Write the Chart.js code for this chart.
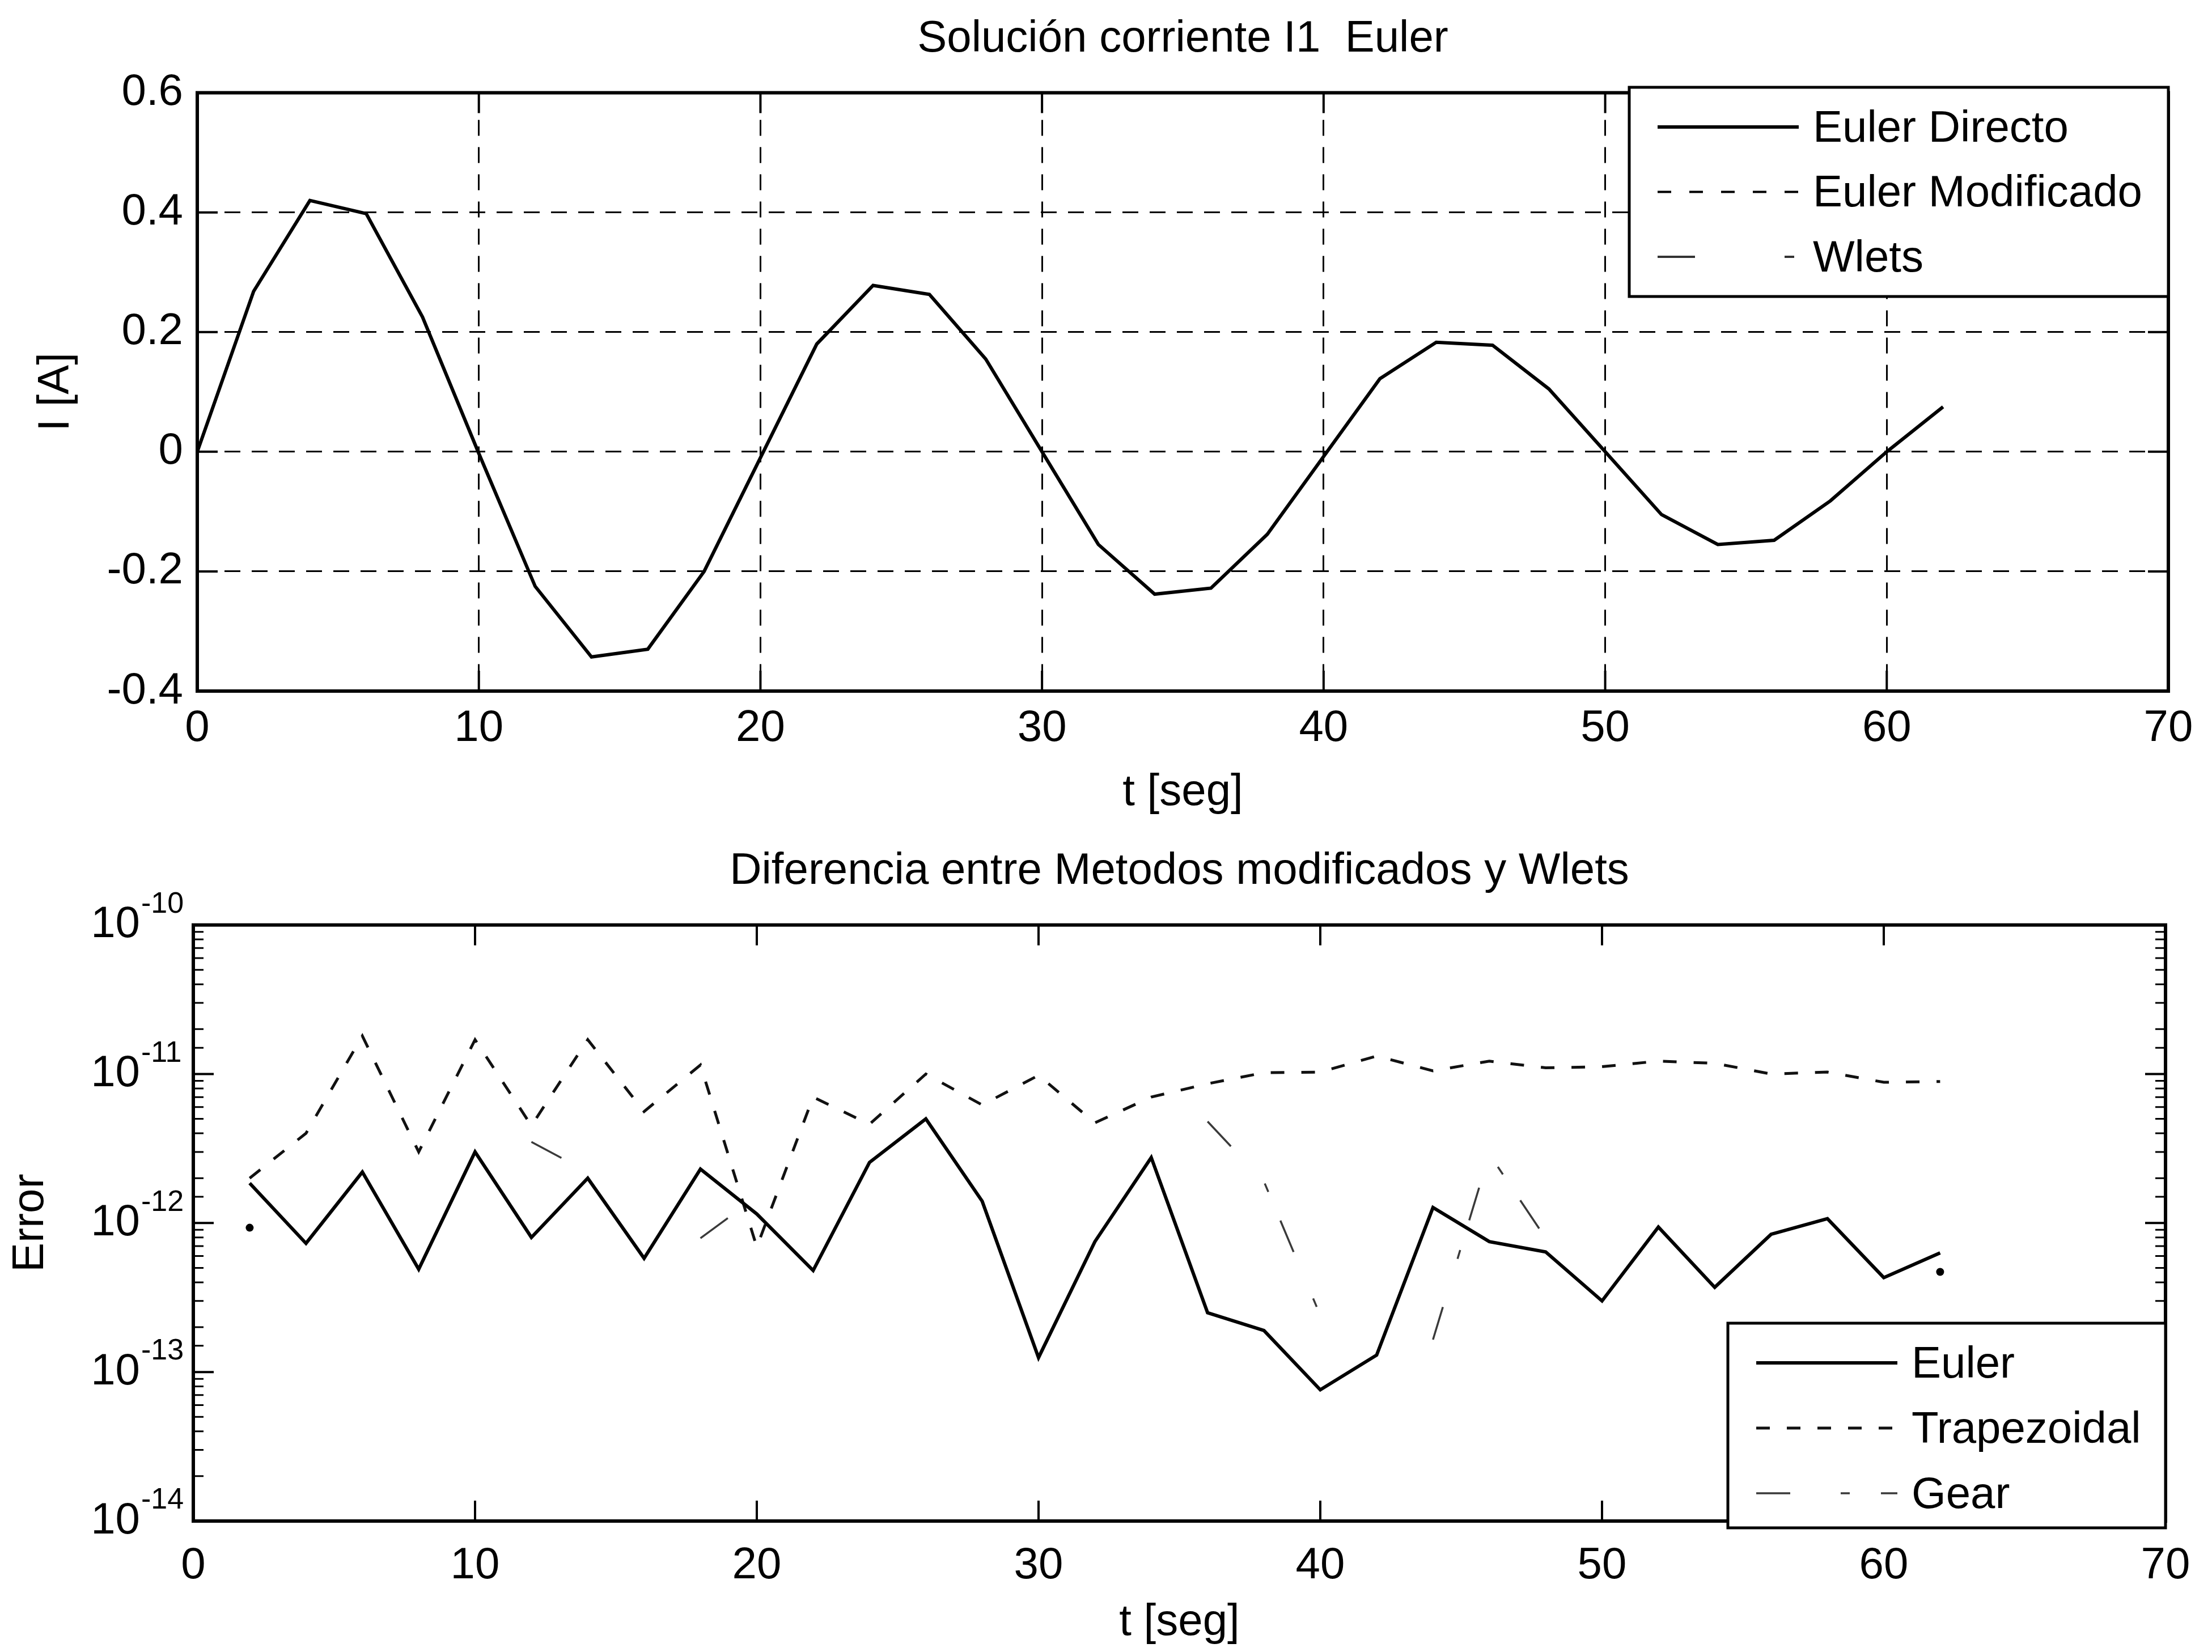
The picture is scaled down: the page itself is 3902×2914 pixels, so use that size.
<!DOCTYPE html>
<html>
<head>
<meta charset="utf-8">
<title>Solución corriente I1 Euler</title>
<script src="https://cdn.jsdelivr.net/npm/chart.js@4.4.1/dist/chart.umd.min.js"></script>
<style>
  html, body { margin: 0; padding: 0; background: #fff; }
  canvas { display: block; }
</style>
</head>
<body>
<canvas id="corriente" width="3902" height="1457" style="width:3902px;height:1457px"></canvas>
<canvas id="error" width="3902" height="1457" style="width:3902px;height:1457px"></canvas>
<script>
// ---- datos grafico 1: corriente I1 ----
const tCorriente = [0, 2, 4, 6, 8, 10, 12, 14, 16, 18, 20, 22, 24, 26, 28, 30,
                    32, 34, 36, 38, 40, 42, 44, 46, 48, 50, 52, 54, 56, 58, 60, 62];
const eulerDirecto = [0, 0.268, 0.420, 0.398, 0.225, -0.003, -0.225, -0.343, -0.330, -0.200, -0.010,
                      0.180, 0.278, 0.263, 0.155, 0.000, -0.155, -0.238, -0.228, -0.138, -0.008,
                      0.122, 0.183, 0.178, 0.105, 0.000, -0.105, -0.155, -0.148, -0.082, 0.000, 0.075];
// las otras dos curvas quedan tapadas por Euler Directo
const eulerModificado = [0, 0.268, 0.420, 0.398, 0.225, -0.003, -0.225, -0.343, -0.330, -0.200, -0.010,
                         0.180, 0.278, 0.263, 0.155, 0.000, -0.155, -0.238, -0.228, -0.138, -0.008,
                         0.122, 0.183, 0.178, 0.105, 0.000, -0.105, -0.155, -0.148, -0.082, 0.000, 0.075];
const wlets = [0, 0.268, 0.420, 0.398, 0.225, -0.003, -0.225, -0.343, -0.330, -0.200, -0.010,
               0.180, 0.278, 0.263, 0.155, 0.000, -0.155, -0.238, -0.228, -0.138, -0.008,
               0.122, 0.183, 0.178, 0.105, 0.000, -0.105, -0.155, -0.148, -0.082, 0.000, 0.075];

// ---- datos grafico 2: error ----
const tError = [2, 4, 6, 8, 10, 12, 14, 16, 18, 20, 22, 24, 26, 28, 30, 32,
                34, 36, 38, 40, 42, 44, 46, 48, 50, 52, 54, 56, 58, 60, 62];
const errEuler = [1.85e-12, 7.3e-13, 2.2e-12, 4.9e-13, 3.0e-12, 8.0e-13, 2.0e-12, 5.8e-13, 2.3e-12, 1.15e-12,
                  4.8e-13, 2.55e-12, 5.0e-12, 1.4e-12, 1.25e-13, 7.5e-13, 2.75e-12, 2.5e-13, 1.9e-13, 7.6e-14,
                  1.3e-13, 1.27e-12, 7.5e-13, 6.4e-13, 3.0e-13, 9.4e-13, 3.7e-13, 8.4e-13, 1.07e-12, 4.3e-13, 6.3e-13];
const errTrapezoidal = [2.0e-12, 4.0e-12, 1.8e-11, 3.0e-12, 1.7e-11, 4.5e-12, 1.7e-11, 5.6e-12, 1.15e-11, 6.9e-13,
                        7.0e-12, 4.6e-12, 1.0e-11, 6.2e-12, 9.8e-12, 4.7e-12, 7.0e-12, 8.6e-12, 1.02e-11, 1.03e-11,
                        1.32e-11, 1.05e-11, 1.22e-11, 1.1e-11, 1.12e-11, 1.22e-11, 1.18e-11, 1.0e-11, 1.03e-11, 8.8e-12, 8.9e-12];
// Gear: en el original solo se ven trozos
const errGear = [9.3e-13, null, null, null, null, 3.5e-12, 2.2e-12, null, 7.9e-13, 1.5e-12,
                 null, null, null, null, null, null, null, 4.8e-12, 1.9e-12, 2.4e-13,
                 null, 1.65e-13, 2.9e-12, 7.9e-13, null, null, null, null, null, null, 4.7e-13];

// ---- ticks ----
const xTickLabels = ['0', '10', '20', '30', '40', '50', '60', '70'];
const iTickLabels = ['-0.4', '-0.2', '0', '0.2', '0.4', '0.6'];
const errTickValues = [1e-14, 1e-13, 1e-12, 1e-11, 1e-10];
const errTickBase = '10';
const errTickExponents = ['-14', '-13', '-12', '-11', '-10'];

const fuente = "'Liberation Sans', Arial, Helvetica, sans-serif";
Chart.defaults.font.family = fuente;
Chart.defaults.font.size = 78;
Chart.defaults.color = '#000';

function toPoints(xs, ys) {
    return xs.map((x, i) => ({ x: x, y: ys[i] }));
}

function isDecade(v) {
    return errTickValues.findIndex(d => Math.abs(v - d) < d * 1e-6);
}

// marco, ticks hacia adentro, exponentes y leyenda (estilo matlab)
const marco = {
    id: 'marco',
    afterDraw(chart, args, opts) {
        const ctx = chart.ctx;
        const a = chart.chartArea;
        ctx.save();
        ctx.strokeStyle = '#000';
        ctx.setLineDash([]);
        ctx.lineWidth = 4;

        const xs = chart.scales.x;
        xs.ticks.forEach(t => {
            const px = xs.getPixelForValue(t.value);
            ctx.beginPath();
            ctx.moveTo(px, a.bottom); ctx.lineTo(px, a.bottom - opts.tick);
            ctx.moveTo(px, a.top); ctx.lineTo(px, a.top + opts.tick);
            ctx.stroke();
        });
        const ys = chart.scales.y;
        const log = ys.type === 'logarithmic';
        ys.ticks.forEach(t => {
            const py = ys.getPixelForValue(t.value);
            const major = !log || isDecade(t.value) >= 0;
            const len = major ? opts.tick : opts.tick / 2;
            ctx.lineWidth = major ? 4 : 3;
            ctx.beginPath();
            ctx.moveTo(a.left, py); ctx.lineTo(a.left + len, py);
            ctx.moveTo(a.right, py); ctx.lineTo(a.right - len, py);
            ctx.stroke();
        });

        ctx.lineWidth = 6;
        ctx.strokeRect(a.left, a.top, a.width, a.height);

        // exponentes de las etiquetas 10^n
        if (log) {
            ctx.fillStyle = '#000';
            ctx.font = '52px ' + fuente;
            ctx.textAlign = 'left';
            ctx.textBaseline = 'middle';
            errTickValues.forEach((v, k) => {
                const py = ys.getPixelForValue(v);
                ctx.fillText(errTickExponents[k], a.left - opts.expOffset, py - 36);
            });
        }

        // leyenda
        const lg = opts.legend;
        ctx.fillStyle = '#fff';
        ctx.fillRect(lg.x, lg.y, lg.w, lg.h);
        ctx.lineWidth = 5;
        ctx.strokeRect(lg.x, lg.y, lg.w, lg.h);
        ctx.font = '78px ' + fuente;
        ctx.textBaseline = 'middle';
        ctx.textAlign = 'left';
        chart.data.datasets.forEach((ds, i) => {
            const y = lg.y + lg.first + i * lg.gap;
            ctx.setLineDash(ds.borderDash || []);
            ctx.lineWidth = ds.borderWidth;
            ctx.strokeStyle = ds.borderColor;
            ctx.beginPath();
            ctx.moveTo(lg.x1, y);
            ctx.lineTo(lg.x2, y);
            ctx.stroke();
            ctx.setLineDash([]);
            ctx.fillStyle = '#000';
            ctx.fillText(ds.label, lg.tx, y + 4);
        });
        ctx.restore();
    }
};

new Chart(document.getElementById('corriente'), {
    type: 'line',
    data: {
        datasets: [
            { label: 'Euler Directo', data: toPoints(tCorriente, eulerDirecto),
              borderColor: '#000', borderWidth: 6, pointRadius: 0 },
            { label: 'Euler Modificado', data: toPoints(tCorriente, eulerModificado),
              borderColor: '#000', borderWidth: 4, borderDash: [24, 32], pointRadius: 0 },
            { label: 'Wlets', data: toPoints(tCorriente, wlets),
              borderColor: '#333', borderWidth: 4, borderDash: [66, 158, 17, 158], pointRadius: 0 }
        ]
    },
    options: {
        responsive: false,
        animation: false,
        events: [],
        layout: { padding: { left: 0, right: 77, top: 0, bottom: 0 } },
        plugins: {
            legend: { display: false },
            tooltip: { enabled: false },
            title: {
                display: true,
                fullSize: false,
                text: 'Solución corriente I1  Euler',
                font: { size: 78, weight: 'normal' },
                padding: { top: 23, bottom: 47 }
            },
            marco: {
                tick: 36,
                legend: { x: 2874, y: 154, w: 951, h: 369, first: 70, gap: 114.5, x1: 2924, x2: 3173, tx: 3198 }
            }
        },
        scales: {
            x: {
                type: 'linear', min: 0, max: 70,
                ticks: { stepSize: 10, padding: 20, maxRotation: 0, callback: (v, i) => xTickLabels[i] },
                grid: { color: '#000', lineWidth: 3, drawTicks: false },
                border: { display: false, dash: [28, 20] },
                title: { display: true, text: 't [seg]', padding: { top: 0, bottom: 12 } },
                afterFit: s => { s.height = 238; }
            },
            y: {
                min: -0.4, max: 0.6,
                ticks: { stepSize: 0.2, padding: 25, callback: (v, i) => iTickLabels[i] },
                grid: { color: '#000', lineWidth: 3, drawTicks: false },
                border: { display: false, dash: [28, 20] },
                title: { display: true, text: 'I [A]', padding: { top: 53, bottom: 0 } },
                afterFit: s => { s.width = 348; }
            }
        }
    },
    plugins: [marco]
});

new Chart(document.getElementById('error'), {
    type: 'line',
    data: {
        datasets: [
            { label: 'Euler', data: toPoints(tError, errEuler),
              borderColor: '#000', borderWidth: 6, pointRadius: 0 },
            { label: 'Trapezoidal', data: toPoints(tError, errTrapezoidal),
              borderColor: '#111', borderWidth: 5, borderDash: [24, 30], pointRadius: 0 },
            { label: 'Gear', data: toPoints(tError, errGear),
              borderColor: '#3a3a3a', borderWidth: 3.5, borderDash: [60, 89, 16, 55],
              pointBackgroundColor: '#000', pointBorderWidth: 0,
              pointRadius: c => {
                  const i = c.dataIndex;
                  if (errGear[i] == null) return 0;
                  return (errGear[i - 1] == null && errGear[i + 1] == null) ? 7 : 0;
              } }
        ]
    },
    options: {
        responsive: false,
        animation: false,
        events: [],
        layout: { padding: { left: 0, right: 82, top: 0, bottom: 0 } },
        plugins: {
            legend: { display: false },
            tooltip: { enabled: false },
            title: {
                display: true,
                fullSize: false,
                text: 'Diferencia entre Metodos modificados y Wlets',
                font: { size: 78, weight: 'normal' },
                padding: { top: 34, bottom: 47 }
            },
            marco: {
                tick: 36,
                expOffset: 92,
                legend: { x: 3048, y: 877, w: 772, h: 361, first: 70, gap: 115, x1: 3098, x2: 3347, tx: 3372 }
            }
        },
        scales: {
            x: {
                type: 'linear', min: 0, max: 70,
                ticks: { stepSize: 10, padding: 33, maxRotation: 0, callback: (v, i) => xTickLabels[i] },
                grid: { display: false, drawTicks: false },
                border: { display: false },
                title: { display: true, text: 't [seg]', padding: { top: 0, bottom: 5 } },
                afterFit: s => { s.height = 231; }
            },
            y: {
                type: 'logarithmic', min: 1e-14, max: 1e-10,
                ticks: {
                    autoSkip: false, padding: 94,
                    callback: v => (isDecade(v) >= 0 ? errTickBase : '')
                },
                grid: { display: false, drawTicks: false },
                border: { display: false },
                title: { display: true, text: 'Error', padding: { top: 8, bottom: 0 } },
                afterFit: s => { s.width = 341; }
            }
        }
    },
    plugins: [marco]
});
</script>
</body>
</html>
